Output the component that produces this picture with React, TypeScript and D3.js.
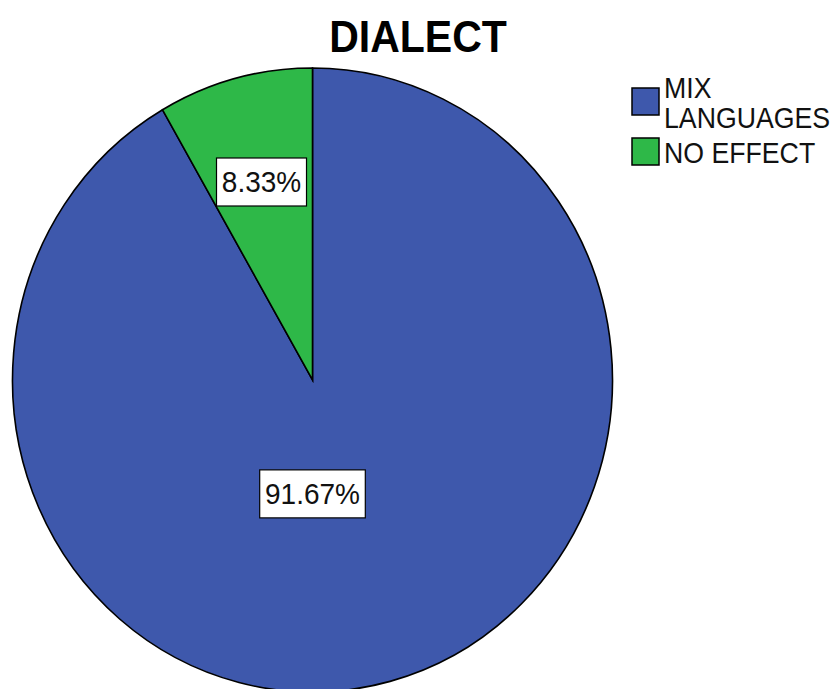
import React from "react";
import * as d3 from "d3";

const categories = ["MIX LANGUAGES", "NO EFFECT"];
const legendLines = [["MIX", "LANGUAGES"], ["NO EFFECT"]];
const values = [91.67, 8.33];
const colors = ["#3E58AC", "#2EB848"];
const title = "DIALECT";

const W = 835;
const H = 689;
const cx = 312.5;
const cy = 380;
const rx = 300;
const ry = 312;
const sy = ry / rx;

export default function App() {
  const pie = d3
    .pie<number>()
    .sort(null)
    .value((d) => d)(values);
  const arc = d3.arc<d3.PieArcDatum<number>>().innerRadius(0).outerRadius(rx);
  const total = d3.sum(values);

  const labelPos = (d: d3.PieArcDatum<number>) => {
    const share = d.data / total;
    let ang = (d.startAngle + d.endAngle) / 2;
    let frac = 0.657;
    if (share > 0.5) {
      ang = Math.PI;
      frac = 0.365;
    }
    return [cx + Math.sin(ang) * rx * frac, cy - Math.cos(ang) * ry * frac];
  };

  return (
    <svg
      width={W}
      height={H}
      style={{ position: "absolute", left: 0, top: 0, background: "#fff" }}
      fontFamily="'Liberation Sans', Arial, sans-serif"
    >
      <text
        x={418}
        y={52}
        textAnchor="middle"
        fontWeight="bold"
        fontSize={41}
        transform={`translate(0,52) scale(1,1.08) translate(0,-52)`}
      >
        {title}
      </text>
      <g transform={`translate(${cx},${cy}) scale(1,${sy})`}>
        {pie.map((d, i) => (
          <path
            key={i}
            d={arc(d) || ""}
            fill={colors[i]}
            stroke="#000"
            strokeWidth={1.6}
            vectorEffect="non-scaling-stroke"
          />
        ))}
      </g>
      {pie.map((d, i) => {
        const [lx, ly] = labelPos(d);
        const txt = d3.format(".2f")(d.data) + "%";
        const bw = txt.length * 15.6 + 12;
        const bh = 48;
        return (
          <g key={"l" + i}>
            <rect
              x={lx - bw / 2}
              y={ly - bh / 2}
              width={bw}
              height={bh}
              fill="#fff"
              stroke="#000"
              strokeWidth={1.2}
            />
            <text
              x={lx}
              y={ly + 10.5}
              textAnchor="middle"
              fontSize={28}
              fill="#111"
              transform={`translate(0,${ly + 10.5}) scale(1,1.06) translate(0,${-(ly + 10.5)})`}
            >
              {txt}
            </text>
          </g>
        );
      })}
      {categories.map((c, i) => {
        const sqY = i === 0 ? 88 : 138;
        const baselines = i === 0 ? [98, 128] : [163];
        return (
          <g key={"lg" + i}>
            <rect
              x={632}
              y={sqY}
              width={27}
              height={27}
              fill={colors[i]}
              stroke="#000"
              strokeWidth={1.5}
            />
            {legendLines[i].map((ln, j) => (
              <text
                key={j}
                x={664}
                y={baselines[j]}
                fontSize={26.7}
                fill="#111"
                transform={`translate(0,${baselines[j]}) scale(1,1.09) translate(0,${-baselines[j]})`}
              >
                {ln}
              </text>
            ))}
          </g>
        );
      })}
    </svg>
  );
}
